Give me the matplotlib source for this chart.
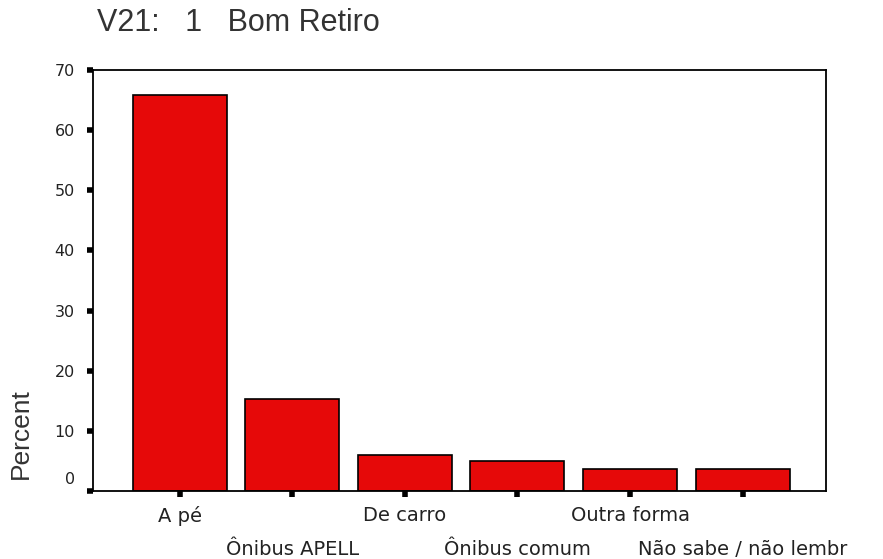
import matplotlib
matplotlib.use("Agg")
import matplotlib.pyplot as plt
import matplotlib.transforms as mtransforms
import numpy as np

categories = ["A pé", "Ônibus APELL", "De carro", "Ônibus comum",
              "Outra forma", "Não sabe / não lembr"]
percent = [65.9, 15.3, 6.0, 5.0, 3.7, 3.7]
yticks = [0, 10, 20, 30, 40, 50, 60, 70]
title = "V21:   1   Bom Retiro"

fig = plt.figure(figsize=(8.83, 5.59), dpi=100)
ax = fig.add_axes([93 / 883, 68 / 559, 733 / 883, 421 / 559])

x = np.arange(len(categories))
ax.bar(x, percent, width=0.835, color="#e60909", edgecolor="black", linewidth=1.2)

ax.set_xlim(-0.77, len(categories) - 1 + 0.74)
ax.set_ylim(0, 70)
ax.set_yticks(yticks)
ax.set_yticklabels([str(v) for v in yticks], fontsize=11.5, family="DejaVu Sans",
                   color="#222222")
ax.set_xticks(x)
ax.set_xticklabels(categories, fontsize=14, family="DejaVu Sans", color="#222222")

for s in ax.spines.values():
    s.set_linewidth(1.3)
ax.tick_params(axis="both", direction="out", length=4, width=4, color="black")
ax.tick_params(axis="x", pad=7)
ax.tick_params(axis="y", pad=9)

# staggered category labels, odd ones on the second row
for i, t in enumerate(ax.xaxis.get_major_ticks()):
    if i % 2 == 1:
        t.set_pad(31)

# the "0" label sits a bit above its tick
for lab in ax.get_yticklabels():
    if lab.get_text() == "0":
        lab.set_transform(lab.get_transform() +
                          mtransforms.ScaledTranslation(0, 13 / 100, fig.dpi_scale_trans))

fig.text(97 / 883, 1 - 8 / 559, title, fontsize=22, family="Liberation Sans",
         ha="left", va="top", color="#333333")
fig.text(21 / 883, 1 - 434 / 559, "Percent", fontsize=19, family="Liberation Sans",
         rotation=90, ha="center", va="center", color="#333333")

fig.savefig("out.png", dpi=100)
